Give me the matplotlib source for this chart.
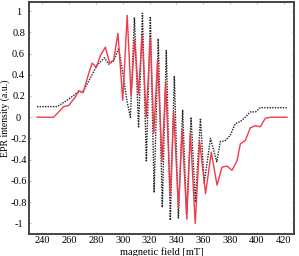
import matplotlib
matplotlib.use("Agg")
import matplotlib.pyplot as plt

# ---- data (field in mT, intensity in a.u.) ----
black_field = [236, 240, 251, 258.4, 265.9, 270.8, 275.8, 280.8, 286.3, 289.5,
               293.2, 296.9, 300.5, 303.2, 305.7, 308.7, 311.8, 314.7, 317.6,
               320.6, 323.4, 326.5, 329.5, 332.5, 335.5, 338.5, 341.5, 344.7,
               347.6, 351.0, 354.2, 358.0, 360.8, 365.5, 370.2, 372.8, 376.6,
               380.3, 384.0, 387.8, 391.5, 395.2, 399.0, 402.7, 406.4, 422.6]
black_int = [0.1, 0.1, 0.1, 0.16, 0.23, 0.25, 0.37, 0.49, 0.56, 0.5,
             0.53, 0.65, 0.38, 0.15, 0.0, 0.94, -0.1, 0.98, -0.42,
             0.95, -0.71, 0.74, -0.85, 0.63, -0.97, 0.39, -0.95, 0.07,
             -0.91, 0.0, -0.8, -0.01, -0.62, -0.2, -0.42, -0.23, -0.22,
             -0.17, -0.06, -0.04, 0.0, 0.05, 0.05, 0.09, 0.09, 0.09]

red_field = [236, 248.4, 255.9, 259.6, 264.6, 267.1, 270.4, 273.8, 277.1, 280.3,
             283.3, 287.0, 290.2, 293.2, 296.4, 300.0, 303.3, 306.2, 308.9,
             311.7, 314.5, 317.5, 320.6, 323.2, 326.0, 329.3, 332.0, 335.5,
             338.0, 341.6, 344.3, 347.8, 350.5, 354.1, 357.4, 361.8, 366.1,
             370.4, 374.1, 377.8, 381.6, 385.3, 387.8, 391.5, 395.2, 399.0,
             402.7, 406.4, 410.1, 422.6]
red_int = [0.0, 0.0, 0.1, 0.11, 0.19, 0.25, 0.23, 0.38, 0.51, 0.47,
           0.58, 0.66, 0.51, 0.54, 0.79, 0.16, 0.96, 0.2, 0.73,
           0.22, 0.77, 0.0, 0.75, -0.15, 0.54, -0.42, 0.32, -0.74,
           0.05, -0.85, -0.12, -0.96, -0.15, -1.0, -0.23, -0.72, -0.33,
           -0.64, -0.47, -0.46, -0.5, -0.41, -0.25, -0.22, -0.1, -0.08,
           -0.09, -0.01, 0.0, 0.0]

x_ticks = [240, 260, 280, 300, 320, 340, 360, 380, 400, 420]
y_ticks = [1, 0.8, 0.6, 0.4, 0.2, 0, -0.2, -0.4, -0.6, -0.8, -1]
y_labels = ["1", "0.8", "0.6", "0.4", "0.2", "0", "-0.2", "-0.4", "-0.6", "-0.8", "-1"]

plt.rcParams["font.family"] = ["Liberation Serif", "DejaVu Serif"]
plt.rcParams["axes.unicode_minus"] = False

fig = plt.figure(figsize=(2.99, 2.56), dpi=100)
ax = fig.add_axes([0.097, 0.086, 0.887, 0.906])

ax.plot(black_field, black_int, color="#222222", linestyle=(0, (1, 0.9)), lw=1.0)
ax.plot(red_field, red_int, color="#f23a4a", lw=1.0)

ax.set_xlim(230, 428)
ax.set_ylim(-1.1, 1.085)
ax.set_xticks(x_ticks)
ax.set_yticks(y_ticks)
ax.set_yticklabels(y_labels, ha="center")

ax.tick_params(direction="in", length=1.5, width=0.8, color="#bbbbbb",
               top=True, right=True, labelsize=7.5)
ax.tick_params(axis="x", pad=1.5)
ax.tick_params(axis="y", pad=7.5)
for s in ax.spines.values():
    s.set_linewidth(1.4)
    s.set_color("#444444")

ax.set_xlabel("magnetic field [mT]", fontsize=7.5, va="center")
ax.set_ylabel("EPR intensity (a.u.)", fontsize=7, va="center")
ax.xaxis.set_label_coords(0.5, -0.077)
ax.yaxis.set_label_coords(-0.089, 0.5)

fig.savefig("out.png", dpi=100)
